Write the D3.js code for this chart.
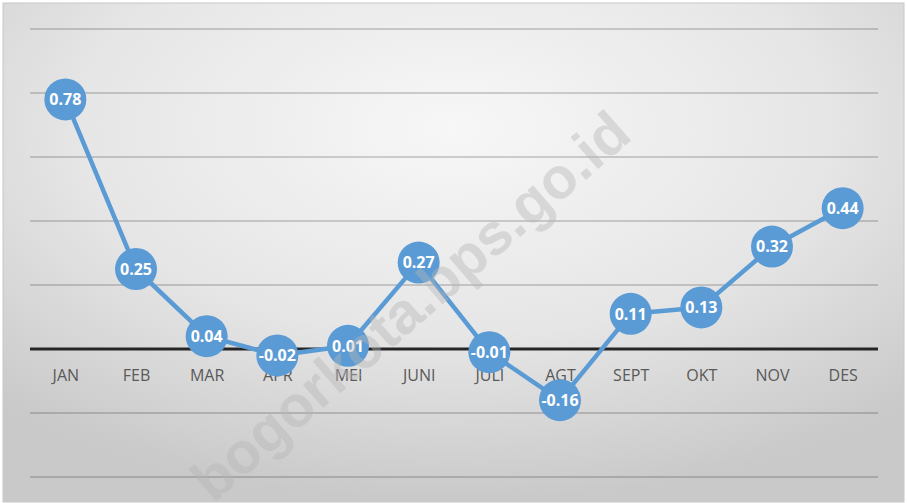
<!DOCTYPE html>
<html>
<head>
<meta charset="utf-8">
<script src="https://cdn.jsdelivr.net/npm/d3@7"></script>
<style>
    html, body { margin: 0; padding: 0; background: #fff; }
    svg { display: block; }
</style>
</head>
<body>
<svg id="chart"></svg>
<script>
// data
const months = ['JAN', 'FEB', 'MAR', 'APR', 'MEI', 'JUNI', 'JULI', 'AGT', 'SEPT', 'OKT', 'NOV', 'DES'];
const values = [0.78, 0.25, 0.04, -0.02, 0.01, 0.27, -0.01, -0.16, 0.11, 0.13, 0.32, 0.44];
const gridTicks = [-0.4, -0.2, 0, 0.2, 0.4, 0.6, 0.8, 1.0];
const watermark = 'bogorkota.bps.go.id';

const width = 907;
const height = 503;
const margin = { left: 30, right: 29, top: 29, bottom: 26 };
const blue = '#5b9bd5';

const svg = d3.select('#chart')
    .attr('width', width)
    .attr('height', height);

// background gradient
const defs = svg.append('defs');
const grad = defs.append('radialGradient')
    .attr('id', 'bg')
    .attr('cx', '50%').attr('cy', '25%')
    .attr('r', '75%');
grad.append('stop').attr('offset', '0%').attr('stop-color', '#f7f7f7');
grad.append('stop').attr('offset', '55%').attr('stop-color', '#e6e6e6');
grad.append('stop').attr('offset', '100%').attr('stop-color', '#c9c9c9');

svg.append('rect')
    .attr('x', 0).attr('y', 0)
    .attr('width', width).attr('height', height)
    .attr('fill', '#fff');
svg.append('rect')
    .attr('x', 3).attr('y', 3)
    .attr('width', width - 6).attr('height', height - 4)
    .attr('fill', 'url(#bg)')
    .attr('stroke', '#c8c8c8')
    .attr('stroke-width', 1);

const x = d3.scalePoint()
    .domain(months)
    .range([margin.left, width - margin.right])
    .padding(0.5);

const y = d3.scaleLinear()
    .domain([-0.4, 1.0])
    .range([height - margin.bottom, margin.top]);

const g = svg.append('g');

// gridlines
g.selectAll('.grid')
    .data(gridTicks.filter(function (d) { return d !== 0; }))
    .enter().append('line')
    .attr('class', 'grid')
    .attr('x1', margin.left)
    .attr('x2', width - margin.right)
    .attr('y1', function (d) { return y(d); })
    .attr('y2', function (d) { return y(d); })
    .attr('stroke', '#000')
    .attr('stroke-opacity', 0.22)
    .attr('stroke-width', 1.5);

// zero axis with month labels
const xAxis = g.append('g')
    .attr('transform', 'translate(0,' + y(0) + ')')
    .call(d3.axisBottom(x).tickSize(0).tickPadding(21));
xAxis.select('.domain')
    .attr('d', 'M' + margin.left + ',0H' + (width - margin.right))
    .attr('stroke', '#262626')
    .attr('stroke-width', 3);
xAxis.selectAll('text')
    .attr('fill', '#595959')
    .style('font-family', "'Open Sans', 'Noto Sans', sans-serif")
    .style('font-size', '16px');

// line
const line = d3.line()
    .x(function (d, i) { return x(months[i]); })
    .y(function (d) { return y(d); });

g.append('path')
    .datum(values)
    .attr('d', line)
    .attr('fill', 'none')
    .attr('stroke', blue)
    .attr('stroke-width', 4.5)
    .attr('stroke-linejoin', 'round');

// markers
g.selectAll('.marker')
    .data(values)
    .enter().append('circle')
    .attr('class', 'marker')
    .attr('cx', function (d, i) { return x(months[i]); })
    .attr('cy', function (d) { return y(d); })
    .attr('r', 21)
    .attr('fill', blue);

// data labels
g.selectAll('.label')
    .data(values)
    .enter().append('text')
    .attr('class', 'label')
    .attr('x', function (d, i) { return x(months[i]); })
    .attr('y', function (d) { return y(d); })
    .attr('dy', '0.36em')
    .attr('text-anchor', 'middle')
    .attr('fill', '#fff')
    .style('font-family', "'Open Sans', 'Noto Sans', sans-serif")
    .style('font-size', '16px')
    .style('font-weight', 'bold')
    .text(function (d) { return d.toFixed(2); });

// watermark
svg.append('text')
    .attr('transform', 'translate(634,138) rotate(-41)')
    .attr('text-anchor', 'end')
    .attr('fill', '#b4b4b4')
    .attr('fill-opacity', 0.42)
    .style('font-family', "'Liberation Sans', Arial, sans-serif")
    .style('font-size', '58px')
    .style('font-weight', 'bold')
    .text(watermark);
</script>
</body>
</html>
